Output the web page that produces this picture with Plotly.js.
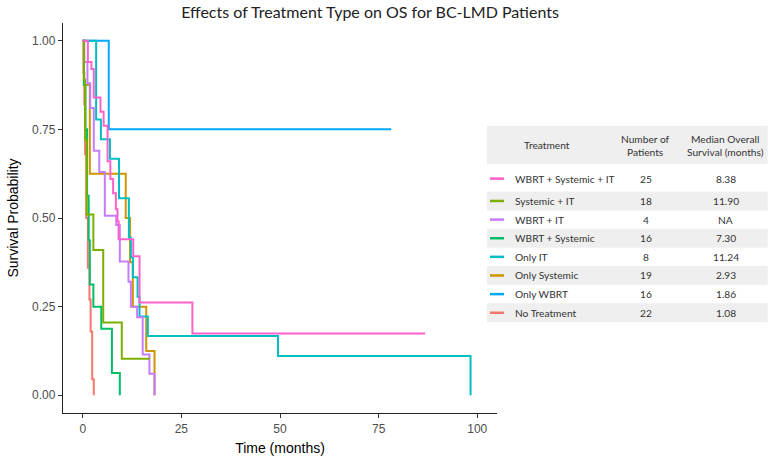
<!DOCTYPE html>
<html>
<head>
<meta charset="utf-8">
<script src="https://cdn.plot.ly/plotly-3.0.1.min.js"></script>
<style>html,body{margin:0;padding:0;background:#fff;}#chart{width:768px;height:456px;}</style>
</head>
<body>
<div id="chart"></div>
<script>
// ---- data ----
const treatments = ['WBRT + Systemic + IT', 'Systemic + IT', 'WBRT + IT', 'WBRT + Systemic', 'Only IT', 'Only Systemic', 'Only WBRT', 'No Treatment'];
const nPatients = ['25', '18', '4', '16', '8', '19', '16', '22'];
const medianOS = ['8.38', '11.90', 'NA', '7.30', '11.24', '2.93', '1.86', '1.08'];

const timeWSI = [0, 1.3, 2.2, 2.8, 4.5, 5.3, 6.3, 7.0, 7.7, 8.4, 8.8, 9.1, 12.8, 14.4, 27.8, 86.8];
const survWSI = [1, 0.94, 0.92, 0.84, 0.80, 0.76, 0.66, 0.61, 0.57, 0.525, 0.49, 0.44, 0.392, 0.262, 0.174, 0.174];

const timeSI = [0, 0.3, 0.6, 1.0, 2.7, 5.2, 9.9, 17.0];
const survSI = [1, 0.89, 0.72, 0.51, 0.41, 0.205, 0.103, 0.103];

const timeWI = [0, 0.4, 1.2, 1.9, 2.8, 4.2, 5.6, 8.5, 9.4, 11.6, 12.2, 13.8, 15.2, 16.9, 18.2];
const survWI = [1, 0.94, 0.88, 0.81, 0.69, 0.63, 0.506, 0.48, 0.377, 0.32, 0.25, 0.22, 0.115, 0.061, 0];

const timeWS = [0, 0.3, 0.7, 1.1, 1.5, 1.8, 2.7, 4.7, 7.4, 9.4];
const survWS = [1, 0.875, 0.75, 0.5625, 0.4375, 0.3125, 0.25, 0.1875, 0.0625, 0];

const timeIT = [0, 3.4, 4.6, 6.9, 9.2, 11.7, 12.2, 12.7, 13.9, 14.4, 16.5, 49.5, 98.3];
const survIT = [1, 0.778, 0.722, 0.667, 0.556, 0.444, 0.389, 0.333, 0.278, 0.222, 0.167, 0.111, 0];

const timeSys = [0, 0.3, 1.8, 10.9, 12.0, 12.7, 16.1, 18.2];
const survSys = [1, 0.875, 0.625, 0.5, 0.375, 0.25, 0.125, 0];

const timeWBRT = [0, 6.6, 78.2];
const survWBRT = [1, 0.75, 0.75];

const timeNone = [0, 0.2, 0.4, 0.6, 0.9, 1.3, 1.7, 2.0, 2.4, 2.8];
const survNone = [1, 0.91, 0.82, 0.68, 0.50, 0.36, 0.27, 0.18, 0.045, 0];

const xTicks = [0, 25, 50, 75, 100];
const yTicks = [0, 0.25, 0.5, 0.75, 1];
const yTickText = ['0.00', '0.25', '0.50', '0.75', '1.00'];

// ---- styles ----
const colors = ['#FF61CC', '#7CAE00', '#C77CFF', '#00BE67', '#00BFC4', '#CD9600', '#00A9FF', '#F8766D'];
const times = [timeWSI, timeSI, timeWI, timeWS, timeIT, timeSys, timeWBRT, timeNone];
const survs = [survWSI, survSI, survWI, survWS, survIT, survSys, survWBRT, survNone];

const W = 768, H = 456;
const mL = 62.5, mR = 271, mT = 23.3, mB = 43.3;
const pw = W - mL - mR, ph = H - mT - mB;
const px2x = p => (p - mL) / pw;
const py2y = p => (H - mB - p) / ph;

const traces = [];
for (let i = treatments.length - 1; i >= 0; i--) {
  traces.push({
    type: 'scatter', mode: 'lines', name: treatments[i],
    x: times[i], y: survs[i],
    line: {shape: 'hv', color: colors[i], width: 2},
    showlegend: false, hoverinfo: 'x+y+name'
  });
}

const tableFont = {family: 'Lato, "Open Sans", sans-serif', size: 10.2, color: '#333'};
const shapes = [];
const annotations = [];
const tblL = 487, tblR = 768;
// header background
shapes.push({type: 'rect', xref: 'paper', yref: 'paper', x0: px2x(tblL), x1: px2x(tblR), y0: py2y(164), y1: py2y(126), fillcolor: '#EFEFEF', line: {width: 0}, layer: 'below'});
const colTreat = 547, colN = 646, colMed = 726;
annotations.push({xref: 'paper', yref: 'paper', x: px2x(colTreat), y: py2y(145.5), text: 'Treatment', showarrow: false, font: tableFont, xanchor: 'center', yanchor: 'middle'});
annotations.push({xref: 'paper', yref: 'paper', x: px2x(colN), y: py2y(145.5), text: 'Number of<br>Patients', showarrow: false, font: tableFont, xanchor: 'center', yanchor: 'middle'});
annotations.push({xref: 'paper', yref: 'paper', x: px2x(colMed), y: py2y(145.5), text: 'Median Overall<br>Survival (months)', showarrow: false, font: tableFont, xanchor: 'center', yanchor: 'middle'});

const rowStep = 18.6;
for (let i = 0; i < treatments.length; i++) {
  const cy = i === 0 ? 178.7 : 201 + (i - 1) * rowStep;
  if (i % 2 === 1) {
    shapes.push({type: 'rect', xref: 'paper', yref: 'paper', x0: px2x(tblL), x1: px2x(tblR), y0: py2y(cy + 9.4), y1: py2y(cy - 9.4), fillcolor: '#EFEFEF', line: {width: 0}, layer: 'below'});
  }
  shapes.push({type: 'line', xref: 'paper', yref: 'paper', x0: px2x(490), x1: px2x(504), y0: py2y(cy), y1: py2y(cy), line: {color: colors[i], width: 2.5}});
  annotations.push({xref: 'paper', yref: 'paper', x: px2x(513), y: py2y(cy), text: treatments[i], showarrow: false, font: tableFont, xanchor: 'left', yanchor: 'middle'});
  annotations.push({xref: 'paper', yref: 'paper', x: px2x(colN), y: py2y(cy), text: nPatients[i], showarrow: false, font: tableFont, xanchor: 'center', yanchor: 'middle'});
  annotations.push({xref: 'paper', yref: 'paper', x: px2x(colMed), y: py2y(cy), text: medianOS[i], showarrow: false, font: tableFont, xanchor: 'center', yanchor: 'middle'});
}

const tickFont = {family: 'Arial, "Liberation Sans", sans-serif', size: 12, color: '#4D4D4D'};
const layout = {
  width: W, height: H,
  margin: {l: mL, r: mR, t: mT, b: mB, pad: 0},
  paper_bgcolor: '#fff', plot_bgcolor: '#fff',
  title: {text: 'Effects of Treatment Type on OS for BC-LMD Patients', x: 370 / W, xref: 'container', xanchor: 'center', y: 1 - 12 / H, yref: 'container', yanchor: 'middle', font: {family: 'Lato, "Open Sans", sans-serif', size: 16, color: '#222'}},
  xaxis: {range: [-5, 105], tickvals: xTicks, ticktext: xTicks.map(String), showgrid: false, zeroline: false, showline: true, linecolor: '#222', linewidth: 1.2, ticks: 'outside', ticklen: 4, tickwidth: 1, tickcolor: '#333', tickfont: tickFont,
    title: {text: 'Time (months)', font: {family: 'Arial, "Liberation Sans", sans-serif', size: 14, color: '#000'}, standoff: 8}},
  yaxis: {range: [-0.05, 1.05], tickvals: yTicks, ticktext: yTickText, showgrid: false, zeroline: false, showline: true, linecolor: '#222', linewidth: 1.2, ticks: 'outside', ticklen: 4, tickwidth: 1, tickcolor: '#333', tickfont: tickFont,
    title: {text: 'Survival Probability', font: {family: 'Arial, "Liberation Sans", sans-serif', size: 14, color: '#000'}, standoff: 10}},
  shapes: shapes, annotations: annotations, showlegend: false
};
Plotly.newPlot('chart', traces, layout, {displayModeBar: false, staticPlot: true});
</script>
</body>
</html>
